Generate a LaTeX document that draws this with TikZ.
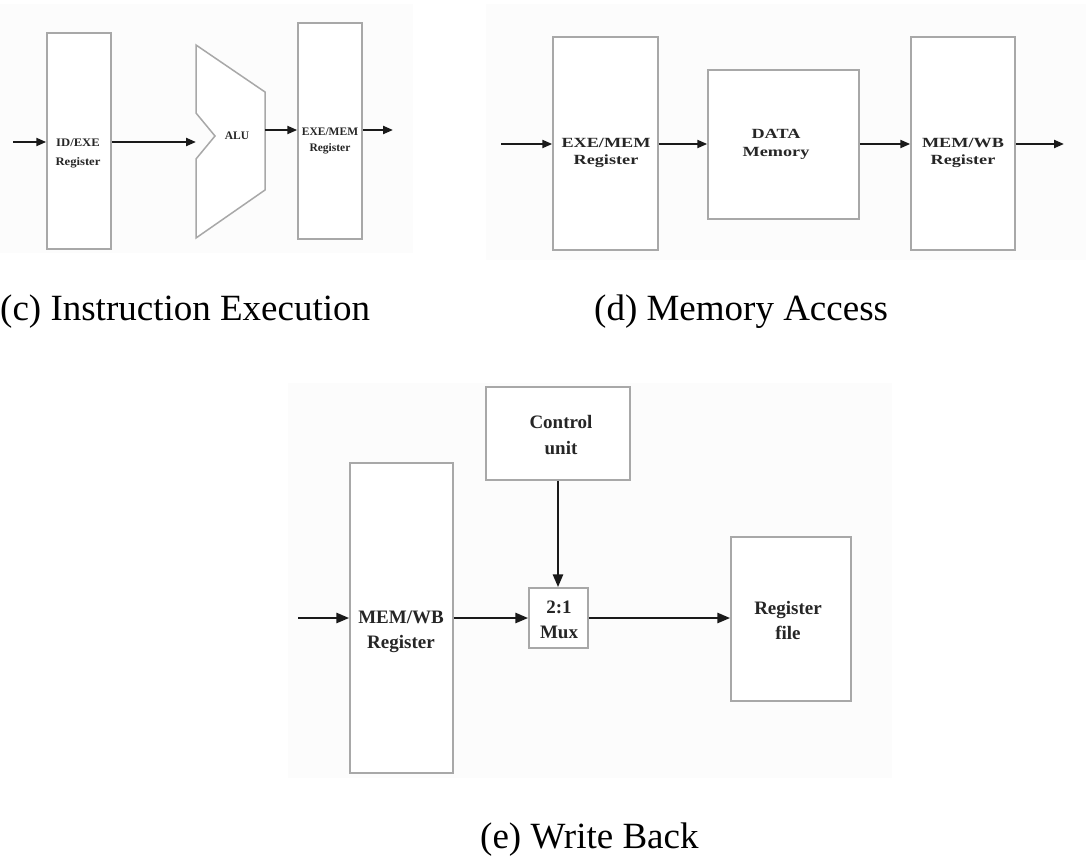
\documentclass[tikz,border=0pt]{standalone}
\usepackage{fontspec}
\setmainfont{Liberation Serif}
\usetikzlibrary{arrows.meta}
\definecolor{boxgray}{HTML}{A8A8A8}
\definecolor{wiredark}{HTML}{1A1A1A}
\definecolor{inkgray}{HTML}{262626}
\definecolor{panelbg}{HTML}{FCFCFC}
\newcommand{\widetext}[2][1.3]{\scalebox{#1}[1]{\begin{tabular}{@{}c@{}}#2\end{tabular}}}
\tikzset{
  regbox/.style={draw=boxgray, line width=1.5pt, fill=white, inner sep=0pt},
  blocklabel/.style={text=inkgray, inner sep=0pt, align=center},
  wire/.style={draw=wiredark, line width=2.2pt, -{Triangle[length=10pt,width=8pt]}},
  thickwire/.style={draw=wiredark, line width=2.8pt, -{Triangle[length=13pt,width=10pt]}},
  caption/.style={inner sep=0pt, anchor=base west, font=\fontsize{37}{40}\selectfont},
}
\begin{document}
\begin{tikzpicture}[x=1pt, y=-1pt]
\useasboundingbox (0,0) rectangle (1086,859);

% faint panel backgrounds
\fill[panelbg] (0,4) rectangle (413,253);
\fill[panelbg] (486,4) rectangle (1086,260);
\fill[panelbg] (288,383) rectangle (892,778);

% ---------------- (c) instruction execution ----------------
\node[regbox, minimum width=64pt, minimum height=216pt] (idexe) at (79,141) {};
\node[blocklabel, font=\bfseries\fontsize{11.5}{19}\selectfont] (idexeL) at (78,152) {\widetext[1.1]{ID/EXE\\Register}};

\draw[boxgray, line width=1.5pt, fill=white]
  (196,45) coordinate (aluTL) -- (265,92) -- (265,190) -- (196,238)
  -- (196,159) -- (215,136) -- (196,113) -- cycle;
\coordinate (aluin) at (196,142);
\coordinate (aluout) at (265,130);
\node[blocklabel, font=\bfseries\fontsize{11.5}{13}\selectfont] (aluL) at (237,136) {ALU};

\node[regbox, minimum width=64pt, minimum height=216pt] (exememC) at (330,131) {};
\node[blocklabel, font=\bfseries\fontsize{11.5}{16}\selectfont] (exememCL) at (330,140) {\widetext[1.0]{EXE/MEM\\Register}};

\coordinate (cin) at (13,142);
\coordinate (cout) at (393,130);
\draw[wire] (cin) -- (cin -| idexe.west);
\draw[wire] (aluin -| idexe.east) -- (aluin);
\draw[wire] (aluout) -- (aluout -| exememC.west);
\draw[wire] (exememC.east |- cout) -- (cout);

% ---------------- (d) memory access ----------------
\node[regbox, minimum width=105pt, minimum height=213pt] (exememD) at (605.5,143.5) {};
\node[regbox, minimum width=151pt, minimum height=149pt] (dmem) at (783.5,144.5) {};
\node[regbox, minimum width=104pt, minimum height=213pt] (memwbD) at (963,143.5) {};
\node[blocklabel, font=\bfseries\fontsize{14}{17}\selectfont] (exememDL) at (606,153) {\widetext{EXE/MEM\\Register}};
\node[blocklabel, font=\bfseries\fontsize{14}{18}\selectfont] (dmemL) at (776,144) {\widetext{DATA\\Memory}};
\node[blocklabel, font=\bfseries\fontsize{14}{17}\selectfont] (memwbDL) at (963,153) {\widetext{MEM/WB\\Register}};

\coordinate (din) at (501,144);
\coordinate (dout) at (1064,144);
\draw[wire] (din) -- (din -| exememD.west);
\draw[wire] (exememD.east |- din) -- (din -| dmem.west);
\draw[wire] (dmem.east |- din) -- (din -| memwbD.west);
\draw[wire] (memwbD.east |- dout) -- (dout);

% ---------------- (e) write back ----------------
\node[regbox, minimum width=144pt, minimum height=93pt] (ctrl) at (558,433.5) {};
\node[blocklabel, font=\bfseries\fontsize{19}{26}\selectfont] (ctrlL) at (561,435) {Control\\unit};
\node[regbox, minimum width=59pt, minimum height=60pt] (mux) at (558.5,618) {};
\node[blocklabel, font=\bfseries\fontsize{19}{25}\selectfont] (muxL) at (559,620) {2:1\\Mux};
\node[regbox, minimum width=103pt, minimum height=310pt] (memwbE) at (401.5,618) {};
\node[blocklabel, font=\bfseries\fontsize{19}{25}\selectfont] (memwbEL) at (401,632) {MEM/WB\\Register};
\node[regbox, minimum width=120pt, minimum height=164pt] (regfile) at (791,619) {};
\node[blocklabel, font=\bfseries\fontsize{19}{25}\selectfont] (regfileL) at (788,620) {Register\\file};

\coordinate (ein) at (298,618);
\draw[thickwire] (ein) -- (ein -| memwbE.west);
\draw[thickwire] (memwbE.east |- ein) -- (mux.west);
\draw[thickwire] (mux.east) -- (mux.east -| regfile.west);
\draw[thickwire] (ctrl.south) -- (ctrl.south |- mux.north);

% ---------------- captions ----------------
\node[caption] (capC) at (0,320) {(c) Instruction Execution};
\node[caption] (capD) at (594,320) {(d) Memory Access};
\node[caption] (capE) at (480,848) {(e) Write Back};
\end{tikzpicture}
\end{document}
